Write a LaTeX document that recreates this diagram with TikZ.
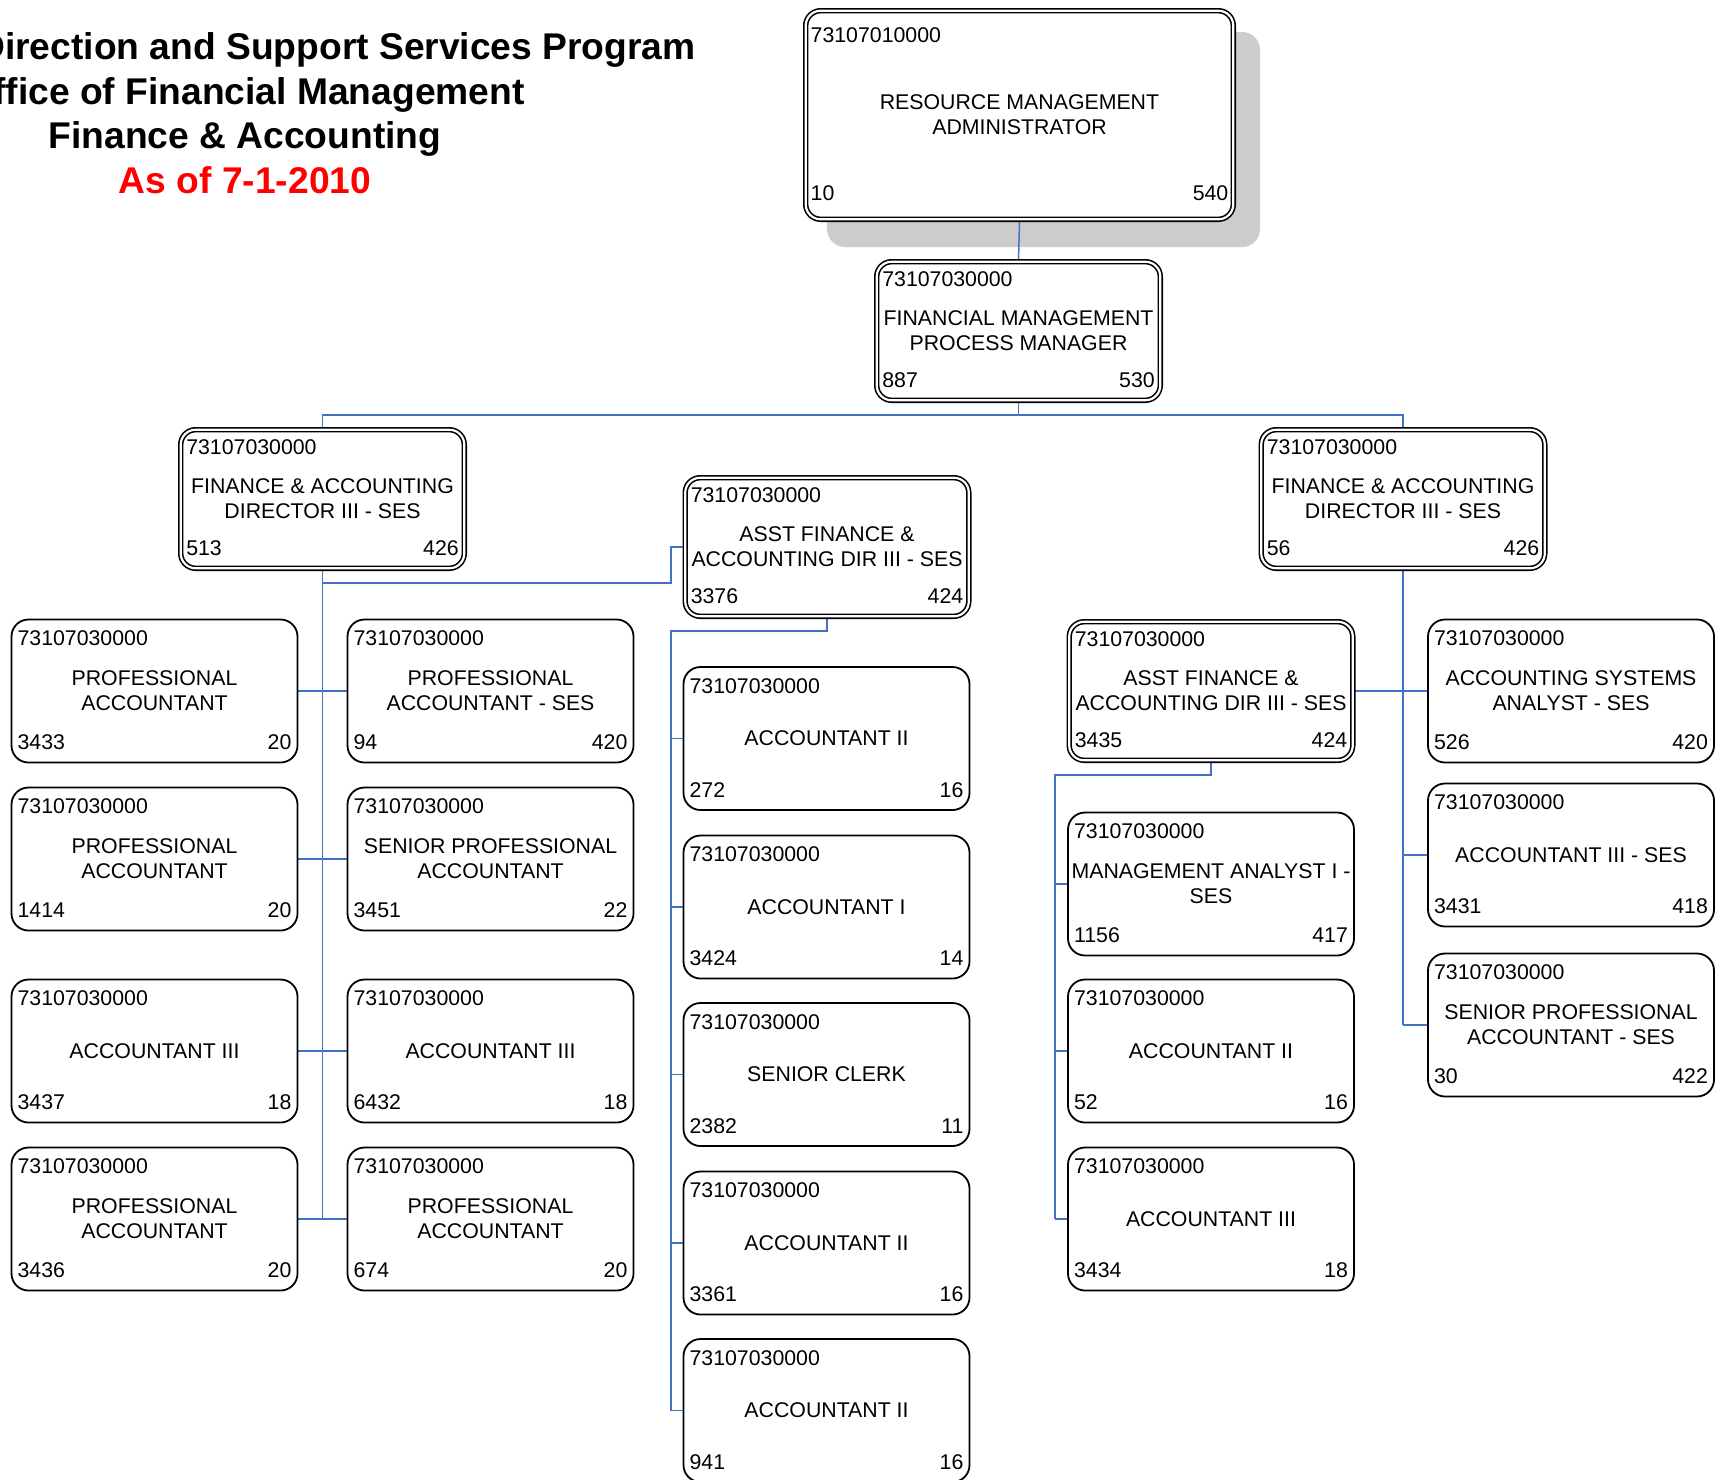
\documentclass[tikz,border=0pt]{standalone}
\usepackage{fontspec}
\setmainfont{Liberation Sans}
\pgfdeclarelayer{bg}
\pgfsetlayers{bg,main}
\definecolor{linkblue}{RGB}{68,114,196}
\definecolor{shadowgray}{RGB}{204,204,204}
\newcommand\boxfont{\fontsize{10.65pt}{12.6pt}\selectfont}
\newcommand\headfont{\fontsize{18.6pt}{22.5pt}\selectfont\bfseries}
% position code, slot number and grade inside a box
\newcommand\placenums[7]{%
  \node[num, anchor=west] (#1-code) at ([xshift=#5, yshift=-#6]#1.north west) {#2};
  \node[num, anchor=west] (#1-left) at ([xshift=#5, yshift=#7]#1.south west) {#3};
  \node[num, anchor=east] (#1-right) at ([xshift=-#5, yshift=#7]#1.south east) {#4};
}
% plain position box: name, centre, code, title, slot, grade
\newcommand\plainpos[6]{%
  \node[pbox] (#1) at (#2) {#4};
  \placenums{#1}{#3}{#5}{#6}{3.3pt}{9.8pt}{10.6pt}%
}
% supervisory position box with a double outline
\newcommand\doublepos[6]{%
  \node[dbox] (#1) at (#2) {#4};
  \placenums{#1}{#3}{#5}{#6}{3pt}{9pt}{10.4pt}%
}
\begin{document}
\begin{tikzpicture}[x=0.5pt,y=-0.5pt,
  pbox/.style={draw=black, line width=0.9pt, rounded corners=8.5pt, fill=white,
    minimum width=143pt, minimum height=71.5pt, inner sep=0pt, align=center, font=\boxfont},
  dbox/.style={pbox, line width=0.8pt, double=white, double distance=1.1pt,
    rounded corners=7.5pt, minimum width=141.8pt, minimum height=69.3pt},
  num/.style={inner sep=0pt, font=\boxfont},
  conn/.style={draw=linkblue, line width=0.75pt},
  head/.style={inner sep=0pt, font=\headfont}]
\useasboundingbox (0,0) rectangle (1727,1479);
\clip (0,0) rectangle (1727,1479);

% heading
\node[head, anchor=base east] (h1) at (696,59) {Direction and Support Services Program};
\node[head, anchor=base east] (h2) at (525,104) {Office of Financial Management};
\node[head, anchor=base] (h3) at (245,148) {Finance \& Accounting};
\node[head, anchor=base, text=red] (h4) at (245,193) {As of 7-1-2010};

% top of the chain
\node[dbox, minimum width=213.8pt, minimum height=104.3pt] (rma) at (1019.5,115)
  {RESOURCE MANAGEMENT\\ADMINISTRATOR};
\placenums{rma}{73107010000}{10}{540}{2.7pt}{12.8pt}{13.4pt}
\doublepos{fmpm}{1018.5,331}{73107030000}{FINANCIAL MANAGEMENT\\PROCESS MANAGER}{887}{530}
\doublepos{fadl}{322.5,499}{73107030000}{FINANCE \& ACCOUNTING\\DIRECTOR III - SES}{513}{426}
\doublepos{fadr}{1403,499}{73107030000}{FINANCE \& ACCOUNTING\\DIRECTOR III - SES}{56}{426}
\doublepos{asstc}{827,547}{73107030000}{ASST FINANCE \&\\ACCOUNTING DIR III - SES}{3376}{424}
\doublepos{asstr}{1211,691}{73107030000}{ASST FINANCE \&\\ACCOUNTING DIR III - SES}{3435}{424}

% left director's staff
\plainpos{l1}{154.5,691}{73107030000}{PROFESSIONAL\\ACCOUNTANT}{3433}{20}
\plainpos{l2}{154.5,859}{73107030000}{PROFESSIONAL\\ACCOUNTANT}{1414}{20}
\plainpos{l3}{154.5,1051}{73107030000}{ACCOUNTANT III}{3437}{18}
\plainpos{l4}{154.5,1219}{73107030000}{PROFESSIONAL\\ACCOUNTANT}{3436}{20}
\plainpos{m1}{490.5,691}{73107030000}{PROFESSIONAL\\ACCOUNTANT - SES}{94}{420}
\plainpos{m2}{490.5,859}{73107030000}{SENIOR PROFESSIONAL\\ACCOUNTANT}{3451}{22}
\plainpos{m3}{490.5,1051}{73107030000}{ACCOUNTANT III}{6432}{18}
\plainpos{m4}{490.5,1219}{73107030000}{PROFESSIONAL\\ACCOUNTANT}{674}{20}

% centre assistant's staff
\plainpos{c1}{826.5,738.5}{73107030000}{ACCOUNTANT II}{272}{16}
\plainpos{c2}{826.5,907}{73107030000}{ACCOUNTANT I}{3424}{14}
\plainpos{c3}{826.5,1074.5}{73107030000}{SENIOR CLERK}{2382}{11}
\plainpos{c4}{826.5,1243}{73107030000}{ACCOUNTANT II}{3361}{16}
\plainpos{c5}{826.5,1410.5}{73107030000}{ACCOUNTANT II}{941}{16}

% right assistant's staff
\plainpos{s1}{1211,884}{73107030000}{MANAGEMENT ANALYST I -\\SES}{1156}{417}
\plainpos{s2}{1211,1051}{73107030000}{ACCOUNTANT II}{52}{16}
\plainpos{s3}{1211,1219}{73107030000}{ACCOUNTANT III}{3434}{18}

% right director's staff
\plainpos{r1}{1571,691}{73107030000}{ACCOUNTING SYSTEMS\\ANALYST - SES}{526}{420}
\plainpos{r2}{1571,855}{73107030000}{ACCOUNTANT III - SES}{3431}{418}
\plainpos{r3}{1571,1025}{73107030000}{SENIOR PROFESSIONAL\\ACCOUNTANT - SES}{30}{422}

% junction points of the reporting lines
\coordinate (bus) at (0,415);
\coordinate (jA) at (671,583);
\coordinate (jB) at (671,631);
\coordinate (jC) at (1055,775);

\begin{pgfonlayer}{bg}
  \fill[shadowgray, rounded corners=9pt] (827,32) rectangle (1260,247);
  \draw[conn] (rma.south) -- (fmpm.north);
  \draw[conn] (fmpm.south) -- (fmpm.south |- bus);
  \draw[conn] (fadl.north) -- (fadl.north |- bus) -- (fadr.north |- bus) -- (fadr.north);
  % left director
  \draw[conn] (fadl.south) -- (fadl.south |- l4.east);
  \foreach \i in {1,...,4} \draw[conn] (l\i.east) -- (m\i.west);
  \draw[conn] (fadl.south |- jA) -- (jA) |- (asstc.west);
  % centre assistant
  \draw[conn] (asstc.south) |- (jB) -- (jB |- c5.west);
  \foreach \i in {1,...,5} \draw[conn] (jB |- c\i.west) -- (c\i.west);
  % right director
  \draw[conn] (fadr.south) -- (fadr.south |- r3.west);
  \draw[conn] (asstr.east) -- (r1.west);
  \foreach \i in {2,3} \draw[conn] (fadr.south |- r\i.west) -- (r\i.west);
  % right assistant
  \draw[conn] (asstr.south) |- (jC) -- (jC |- s3.west);
  \foreach \i in {1,...,3} \draw[conn] (jC |- s\i.west) -- (s\i.west);
\end{pgfonlayer}
\end{tikzpicture}
\end{document}
